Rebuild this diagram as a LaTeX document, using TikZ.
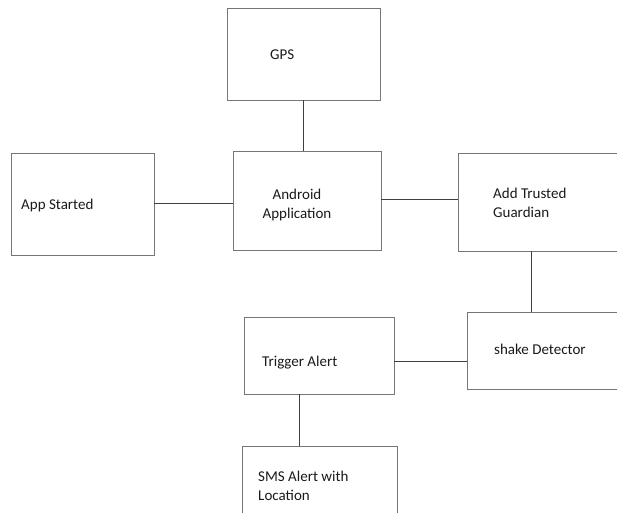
\documentclass[tikz,border=0pt]{standalone}
\usepackage{fontspec}
\setmainfont{Carlito}
\begin{document}
\begin{tikzpicture}[x=1pt,y=-1pt,
  boxstyle/.style={draw=boxgray, line width=0.9pt, inner sep=0pt},
  txt/.style={inner sep=0pt, text=textgray, font=\fontsize{15}{19}\selectfont, align=left},
  conn/.style={draw=linegray, line width=0.8pt}]
\definecolor{boxgray}{HTML}{767676}
\definecolor{linegray}{HTML}{404040}
\definecolor{textgray}{HTML}{1A1A1A}
\useasboundingbox[fill=white] (0,0) rectangle (617,512);
% boxes
\node[boxstyle, minimum width=153pt, minimum height=92pt] (gps) at (303.5,54) {};
\node[boxstyle, minimum width=143pt, minimum height=102pt] (app) at (82.5,204) {};
\node[boxstyle, minimum width=148pt, minimum height=99pt] (android) at (307,200.5) {};
\node[boxstyle, minimum width=163pt, minimum height=98pt] (guardian) at (539.5,202) {};
\node[boxstyle, minimum width=150pt, minimum height=77pt] (trigger) at (319,355.5) {};
\node[boxstyle, minimum width=154pt, minimum height=77pt] (shake) at (544,350.5) {};
\node[boxstyle, minimum width=155pt, minimum height=70pt] (sms) at (319.5,481) {};
% texts
\node[txt, anchor=west] (tgps) at (270,55) {GPS};
\node[txt, anchor=west] (tapp) at (21,205) {App Started};
\node[txt, align=center] (tandroid) at (297,205) {Android\\Application};
\node[txt, anchor=west] (tguard) at (493,202.5) {Add Trusted\\Guardian};
\node[txt, anchor=west] (ttrig) at (262,363) {Trigger Alert};
\node[txt, anchor=west] (tshake) at (494,349) {shake Detector};
\node[txt, anchor=west] (tsms) at (258,485.5) {SMS Alert with\\Location};
% connectors
\draw[conn] (gps.south) -- (gps.south |- android.north);
\draw[conn] ([yshift=1pt]app.east) -- ([yshift=1pt]app.east -| android.west);
\draw[conn] ([yshift=1.5pt]android.east) -- ([yshift=1.5pt]android.east -| guardian.west);
\draw[conn] ([xshift=-8.5pt]guardian.south) -- ([xshift=-8.5pt]guardian.south |- shake.north);
\draw[conn] ([yshift=-5.5pt]trigger.east) -- ([yshift=-5.5pt]trigger.east -| shake.west);
\draw[conn] ([xshift=-20pt]trigger.south) -- ([xshift=-20pt]trigger.south |- sms.north);
\end{tikzpicture}
\end{document}
